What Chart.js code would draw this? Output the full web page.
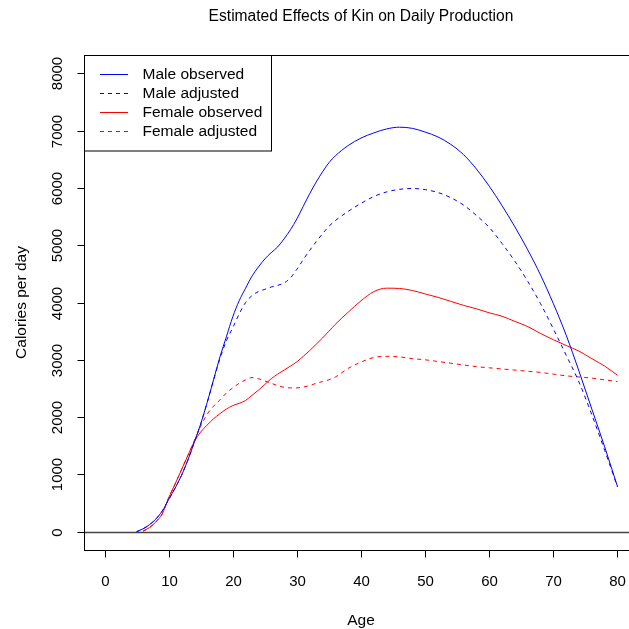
<!DOCTYPE html>
<html>
<head>
<meta charset="utf-8">
<script src="https://cdn.jsdelivr.net/npm/chart.js@4"></script>
<style>
  html, body { margin: 0; padding: 0; overflow: hidden; background: #fff; }
  canvas { display: block; }
</style>
</head>
<body>
<canvas id="kinChart" width="660" height="629"></canvas>
<script>
// --- Dados ---
const ages = [5, 6, 7, 8, 9, 10, 11, 12, 13, 14, 15, 16, 17, 18, 19, 20, 21, 22, 23, 24,
  25, 26, 27, 28, 29, 30, 31, 32, 33, 34, 35, 36, 38, 40, 42, 44, 46, 48, 50, 52,
  54, 56, 58, 60, 62, 64, 66, 68, 70, 72, 74, 76, 78, 80];

const maleObserved = [0, 50, 120, 220, 360, 560, 760, 980, 1250, 1560, 1880, 2250, 2650, 3050, 3400, 3750, 4030, 4250, 4460, 4620,
  4760, 4870, 4970, 5110, 5270, 5460, 5680, 5900, 6100, 6280, 6440, 6560, 6740, 6870, 6960, 7030, 7060, 7040, 6975, 6890,
  6760, 6580, 6330, 6030, 5690, 5320, 4920, 4480, 3980, 3430, 2800, 2140, 1480, 790];

const maleAdjusted = [0, 50, 120, 220, 360, 560, 760, 980, 1250, 1560, 1880, 2250, 2640, 3020, 3330, 3560, 3800, 4000, 4120, 4190,
  4230, 4270, 4300, 4340, 4430, 4580, 4750, 4910, 5060, 5200, 5330, 5430, 5590, 5730, 5850, 5930, 5975, 5990, 5970, 5920,
  5830, 5700, 5520, 5310, 5030, 4720, 4370, 3980, 3540, 3080, 2610, 2040, 1420, 780];

const femaleObserved = [null, 10, 70, 170, 310, 590, 830, 1080, 1330, 1570, 1740, 1860, 1970, 2060, 2140, 2200, 2240, 2290, 2380, 2470,
  2570, 2670, 2750, 2820, 2890, 2965, 3060, 3160, 3270, 3380, 3500, 3620, 3830, 4030, 4190, 4250, 4245, 4210, 4150, 4090,
  4020, 3950, 3890, 3820, 3760, 3670, 3580, 3460, 3350, 3250, 3150, 3020, 2890, 2730];

const femaleAdjusted = [null, 10, 70, 170, 310, 590, 830, 1080, 1330, 1590, 1840, 2050, 2190, 2300, 2420, 2510, 2590, 2650, 2690, 2670,
  2630, 2590, 2550, 2520, 2510, 2510, 2525, 2550, 2590, 2620, 2650, 2700, 2850, 2960, 3040, 3060, 3050, 3020, 3000, 2970,
  2940, 2910, 2880, 2860, 2840, 2820, 2800, 2780, 2750, 2720, 2700, 2680, 2650, 2620];

const seriesNames = ["Male observed", "Male adjusted", "Female observed", "Female adjusted"];
const xTicks = [0, 10, 20, 30, 40, 50, 60, 70, 80];
const yTicks = [0, 1000, 2000, 3000, 4000, 5000, 6000, 7000, 8000];

const FONT = "'Liberation Sans', Arial, sans-serif";
const BLUE = "#0000ff";
const RED = "#ff0000";
const DASH = [4, 4];

const toPoints = (vals) => ages.map((a, i) => ({ x: a, y: vals[i] }));

const styles = [
  { color: BLUE, dash: [] },
  { color: BLUE, dash: DASH },
  { color: RED, dash: [] },
  { color: RED, dash: DASH },
];
const allSeries = [maleObserved, maleAdjusted, femaleObserved, femaleAdjusted];

// --- Moldura no estilo R: caixa, eixos, títulos e legenda ---
const rFrame = {
  id: "rFrame",
  beforeDatasetsDraw(chart) {
    const { ctx, chartArea: a, scales: { y } } = chart;
    const y0 = Math.round(y.getPixelForValue(0)) + 0.5;
    ctx.save();
    ctx.strokeStyle = "#444";
    ctx.lineWidth = 1.3;
    ctx.beginPath();
    ctx.moveTo(a.left, y0);
    ctx.lineTo(a.right, y0);
    ctx.stroke();
    ctx.restore();
  },
  afterDraw(chart) {
    const { ctx, chartArea: a, scales: { x, y } } = chart;
    ctx.save();
    ctx.strokeStyle = "#000";
    ctx.fillStyle = "#000";
    ctx.lineWidth = 1;

    // caixa
    const L = Math.round(a.left) + 0.5, T = Math.round(a.top) + 0.5;
    const R = Math.round(a.right) + 0.5, B = Math.round(a.bottom) + 0.5;
    ctx.strokeRect(L, T, R - L, B - T);

    ctx.font = "15px " + FONT;

    // eixo x
    ctx.textAlign = "center";
    ctx.textBaseline = "middle";
    xTicks.forEach((v) => {
      const px = Math.round(x.getPixelForValue(v)) + 0.5;
      ctx.beginPath();
      ctx.moveTo(px, B);
      ctx.lineTo(px, B + 7);
      ctx.stroke();
      ctx.fillText(String(v), px, 582);
    });

    // eixo y (rótulos girados)
    yTicks.forEach((v) => {
      const py = Math.round(y.getPixelForValue(v)) + 0.5;
      ctx.beginPath();
      ctx.moveTo(L - 7, py);
      ctx.lineTo(L, py);
      ctx.stroke();
      ctx.save();
      ctx.translate(58, py);
      ctx.rotate(-Math.PI / 2);
      ctx.fillText(String(v), 0, 0);
      ctx.restore();
    });

    // títulos dos eixos
    ctx.font = "15.5px " + FONT;
    ctx.fillText("Age", (a.left + a.right) / 2, 621);
    ctx.save();
    ctx.translate(22, (a.top + a.bottom) / 2);
    ctx.rotate(-Math.PI / 2);
    ctx.fillText("Calories per day", 0, 0);
    ctx.restore();

    // título principal
    ctx.font = "15.6px " + FONT;
    ctx.fillText("Estimated Effects of Kin on Daily Production", (a.left + a.right) / 2, 17);

    // legenda
    ctx.fillStyle = "#fff";
    ctx.fillRect(L, T, 187, 95.5);
    ctx.strokeStyle = "#000";
    ctx.strokeRect(L, T, 187, 95.5);
    ctx.font = "15.5px " + FONT;
    ctx.textAlign = "left";
    seriesNames.forEach((name, i) => {
      const ly = Math.round(73.5 + i * 19.2) + 0.5;
      ctx.save();
      ctx.strokeStyle = styles[i].color;
      ctx.setLineDash(styles[i].dash);
      ctx.beginPath();
      ctx.moveTo(100, ly);
      ctx.lineTo(128, ly);
      ctx.stroke();
      ctx.restore();
      ctx.fillStyle = "#000";
      ctx.fillText(name, 142.5, ly);
    });
    ctx.restore();
  },
};

new Chart(document.getElementById("kinChart").getContext("2d"), {
  type: "line",
  data: {
    datasets: allSeries.map((vals, i) => ({
      label: seriesNames[i],
      data: toPoints(vals),
      borderColor: styles[i].color,
      borderDash: styles[i].dash,
      borderWidth: 1,
      pointRadius: 0,
      cubicInterpolationMode: "monotone",
      fill: false,
    })),
  },
  options: {
    responsive: false,
    animation: false,
    devicePixelRatio: 1,
    layout: { padding: { left: 84, right: 22, top: 55, bottom: 79 } },
    scales: {
      x: { type: "linear", min: -3.2, max: 83.2, display: false },
      y: { type: "linear", min: -320, max: 8320, display: false },
    },
    plugins: {
      legend: { display: false },
      title: { display: false },
      tooltip: { enabled: false },
    },
  },
  plugins: [rFrame],
});
</script>
</body>
</html>
